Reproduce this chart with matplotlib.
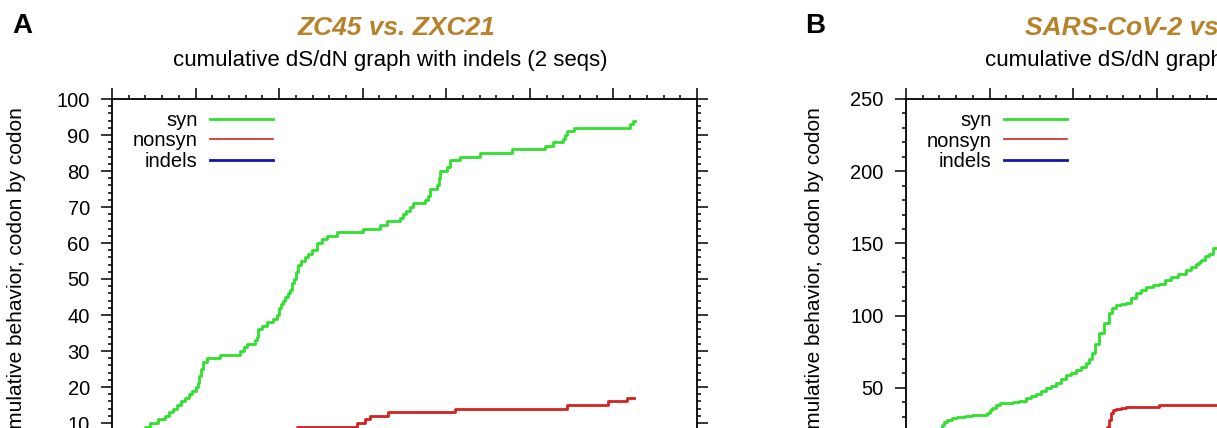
import matplotlib
matplotlib.use("Agg")
import matplotlib.pyplot as plt
from matplotlib.ticker import MultipleLocator

plt.rcParams['font.family'] = ['Liberation Sans', 'DejaVu Sans']

# painel A: ZC45 vs. ZXC21 (posição do códon, contagem acumulada)
a_syn_codon = [0, 8, 16, 25, 34, 44, 53, 62, 70, 79,
               92, 110, 126, 136, 146, 156, 165, 174, 184, 192, 200, 205, 209, 213, 218, 227, 258,
               306, 315, 323, 342, 346, 349, 360, 372, 385, 395, 400, 405, 409, 415, 421, 426, 430,
               435, 440, 446, 452, 462, 470, 478, 491, 502, 514, 538,
               601, 641, 658, 690, 696, 704, 712, 720, 750, 756, 761, 778, 782, 785, 802, 809, 833,
               881, 957, 1036, 1055, 1079, 1084, 1089, 1105, 1240, 1248, 1252]
a_syn_count = [0, 1, 2, 3, 4, 5, 6, 7, 8, 9,
               10, 11, 12, 13, 14, 15, 16, 17, 18, 19, 20, 21, 23, 25, 27, 28, 29,
               30, 31, 32, 33, 34, 36, 37, 38, 39, 40, 42, 43, 44, 45, 46, 47, 49,
               50, 52, 54, 55, 56, 57, 58, 60, 61, 62, 63,
               64, 65, 66, 67, 68, 69, 70, 71, 72, 73, 75, 76, 78, 80, 81, 83, 84,
               85, 86, 87, 88, 89, 90, 91, 92, 93, 94, 94]

a_nonsyn_codon = [0, 55, 110, 165, 215, 265, 315, 360, 405, 443, 586, 605, 617, 660, 821, 1089, 1187, 1232, 1250]
a_nonsyn_count = [0, 1, 2, 3, 4, 5, 6, 7, 8, 9, 10, 11, 12, 13, 14, 15, 16, 17, 17]

a_indel_codon = [0, 1252]
a_indel_count = [0, 0]

# painel B: SARS-CoV-2 vs. ...
b_syn_codon = [0, 20, 40, 60, 75, 86, 92, 98, 110, 121, 140, 159, 175, 193, 200, 207, 215, 224, 240, 255,
               270, 288, 300, 312, 324, 336, 348, 359, 371, 383, 395, 407, 419, 431, 438, 445, 453,
               462, 474, 486, 494, 502, 514, 526, 538, 550, 562, 574, 590, 605, 620, 635, 652, 669,
               681, 693, 700, 707, 716, 724, 735, 760]
b_syn_count = [0, 5, 11, 16, 20, 24, 26, 27.7, 29, 29.8, 30.5, 31, 31.5, 32.5, 34.5, 36, 38, 39.4, 39.8, 40,
               41.2, 42.9, 44.5, 46, 48, 49.8, 51.2, 53, 56, 58.8, 60.5, 62.2, 64.5, 67, 70, 74, 80,
               87.8, 95, 101.7, 105.5, 107, 108, 109, 112.5, 115.5, 118, 119.8, 121, 122, 124.5, 126.6, 129, 131.4,
               134, 136, 137, 138.3, 141, 143, 147, 152]

b_nonsyn_codon = [0, 100, 200, 300, 400, 470, 481, 486, 490, 496, 502, 514, 526, 597, 605, 760]
b_nonsyn_count = [0, 2, 5, 9, 14, 19, 22.8, 28, 32.5, 34.6, 35.5, 36, 36.7, 36.7, 38, 38]

b_indel_codon = [0, 760]
b_indel_count = [0, 0]

GREEN = '#2fe02f'
RED = '#d42222'
BLUE = '#1414a8'
TITLE_COLOR = '#b8822a'

W, H = 1217, 428


def px(x, y):
    # converte pixel (origem no canto superior esquerdo) em coordenadas da figura
    return x / W, 1 - y / H


def montar_eixo(ax, ymax, ymajor, yminor, syn, nonsyn, indel):
    ax.plot(syn[0], syn[1], color=GREEN, lw=2.0, drawstyle='steps-post', label='syn')
    ax.plot(nonsyn[0], nonsyn[1], color=RED, lw=2.0, drawstyle='steps-post', label='nonsyn')
    ax.plot(indel[0], indel[1], color=BLUE, lw=2.0, label='indels')

    ax.set_xlim(0, 1400)
    ax.set_ylim(0, ymax)
    ax.xaxis.set_major_locator(MultipleLocator(200))
    ax.xaxis.set_minor_locator(MultipleLocator(40))
    ax.yaxis.set_major_locator(MultipleLocator(ymajor))
    ax.yaxis.set_minor_locator(MultipleLocator(yminor))

    # eixo x inferior fica fora do recorte
    ax.tick_params(which='both', direction='out', top=True, right=True,
                   labeltop=False, labelright=False, labelbottom=False,
                   width=1.1, labelsize=14.5, pad=8)
    ax.tick_params(which='major', length=8)
    ax.tick_params(which='minor', length=3)
    for s in ax.spines.values():
        s.set_linewidth(1.3)

    leg = ax.legend(loc='upper left', bbox_to_anchor=(0.035, 0.967), frameon=False,
                    markerfirst=False, fontsize=14.5, handlelength=3.1, handletextpad=0.65,
                    labelspacing=0.08, borderpad=0, borderaxespad=0)
    leg.get_lines()[1].set_linewidth(1.2)


fig = plt.figure(figsize=(W / 100, H / 100), dpi=100)

ax_a = fig.add_axes([112 / W, 1 - 459 / H, 585 / W, 360 / H])
montar_eixo(ax_a, 100, 10, 2,
            (a_syn_codon, a_syn_count), (a_nonsyn_codon, a_nonsyn_count),
            (a_indel_codon, a_indel_count))

ax_b = fig.add_axes([906 / W, 1 - 460 / H, 585 / W, 361 / H])
montar_eixo(ax_b, 250, 50, 10,
            (b_syn_codon, b_syn_count), (b_nonsyn_codon, b_nonsyn_count),
            (b_indel_codon, b_indel_count))

# rótulos dos painéis e títulos
fig.text(*px(12, 33), 'A', fontsize=20, fontweight='bold', va='baseline')
fig.text(*px(805, 33), 'B', fontsize=20, fontweight='bold', va='baseline')

fig.text(*px(298, 35), 'ZC45 vs. ZXC21', fontsize=19, fontweight='bold', style='italic',
         color=TITLE_COLOR, va='baseline')
fig.text(*px(1025, 35), 'SARS-CoV-2 vs. RaTG13', fontsize=19, fontweight='bold', style='italic',
         color=TITLE_COLOR, va='baseline')

fig.text(*px(173, 66), 'cumulative dS/dN graph with indels (2 seqs)', fontsize=16, va='baseline')
fig.text(*px(985, 66), 'cumulative dS/dN graph with indels (2 seqs)', fontsize=16, va='baseline')

fig.text(*px(17, 279), 'cumulative behavior, codon by codon', fontsize=15, rotation=90,
         ha='center', va='center')
fig.text(*px(815, 279), 'cumulative behavior, codon by codon', fontsize=15, rotation=90,
         ha='center', va='center')

fig.savefig('out.png', dpi=100)
